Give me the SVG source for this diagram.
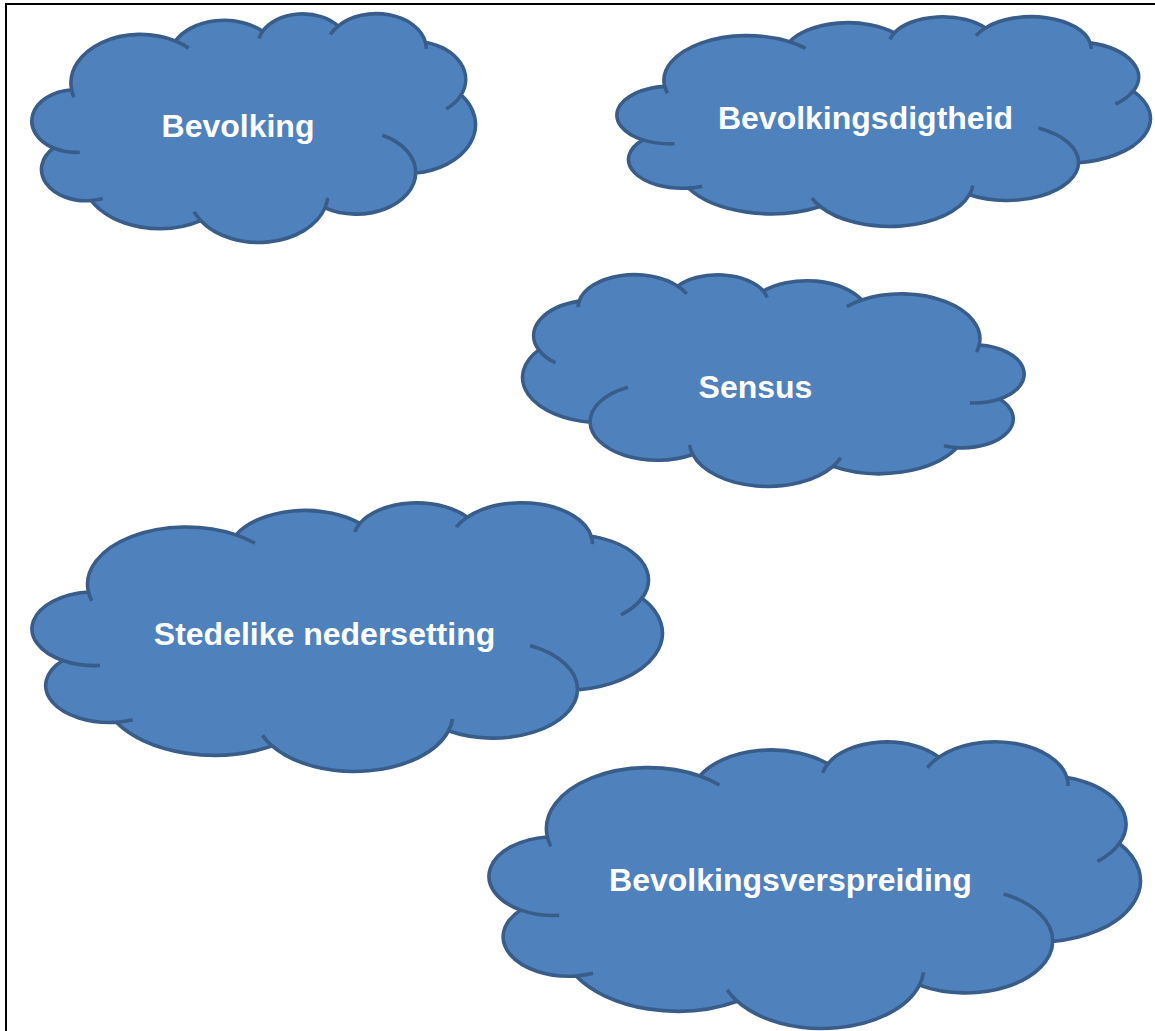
<svg xmlns="http://www.w3.org/2000/svg" xmlns:xlink="http://www.w3.org/1999/xlink" width="1155" height="1031" viewBox="0 0 1155 1031">
<style>
.cloud{fill:#4F81BD;stroke:#385D8A;stroke-width:3.6;vector-effect:non-scaling-stroke;stroke-linejoin:round}
.inner{fill:none;stroke:#385D8A;stroke-width:3.6;vector-effect:non-scaling-stroke}
.lbl{font-family:"Liberation Sans",Arial,sans-serif;font-weight:bold;font-size:32px;fill:#FFFFFF;text-anchor:middle}
.frame{fill:none;stroke:#000000;stroke-width:2}
</style>
<defs>
<g id="cloudShape">
<path class="cloud" d="M3900,14370 A6753,9190 0 0 1 14000,5192 A5333,7267 0 0 1 22480,3360 A4365,5945 0 0 1 29840,2370 A4857,6595 0 0 1 38324,5426 A5333,7273 0 0 1 41798,15354 A6775,9220 0 0 1 37383,30093 A5785,7867 0 0 1 28550,36665 A6752,9215 0 0 1 16478,39090 A7720,10543 0 0 1 5810,35290 A4360,5918 0 0 1 2140,25375 A4345,5945 0 0 1 3900,14370 Z"/>
<path class="inner" d="M4693,26177 A4345,5945 0 0 1 2140,25375 M6928,34899 A4360,5918 0 0 1 5810,35290 M16478,39090 A6752,9215 0 0 1 15814,37361 M28827,34751 A6752,9215 0 0 1 28550,36665 M34129,22954 A5785,7867 0 0 1 37383,30093 M41798,15354 A5333,7273 0 0 1 40351,18030 M38324,5426 A4857,6595 0 0 1 38401,6690 M29078,3952 A4857,6595 0 0 1 29840,2370 M22141,4720 A4365,5945 0 0 1 22480,3360 M14000,5192 A6753,9190 0 0 1 15300,6540 M4127,15789 A6753,9190 0 0 1 3900,14370"/>
</g>
</defs>
<rect class="frame" x="6" y="4" width="1160" height="1040"/>
<g id="connectors"></g>
<g id="bevolking">
<use xlink:href="#cloudShape" href="#cloudShape" transform="translate(31.5,13.5) scale(0.010278,0.0053009)"/>
<text class="lbl" x="238" y="136.5">Bevolking</text>
</g>
<g id="bevolkingsdigtheid">
<use xlink:href="#cloudShape" href="#cloudShape" transform="translate(616.5,16.5) scale(0.012361,0.0048611)"/>
<text class="lbl" x="865.5" y="129">Bevolkingsdigtheid</text>
</g>
<g id="sensus">
<use xlink:href="#cloudShape" href="#cloudShape" transform="translate(1024.5,274.5) scale(-0.011620,0.0049074)"/>
<text class="lbl" x="755.5" y="398">Sensus</text>
</g>
<g id="stedelike">
<use xlink:href="#cloudShape" href="#cloudShape" transform="translate(31.5,502.5) scale(0.014606,0.0062269)"/>
<text class="lbl" x="324.5" y="645">Stedelike nedersetting</text>
</g>
<g id="bevolkingsverspreiding">
<use xlink:href="#cloudShape" href="#cloudShape" transform="translate(488.5,741.5) scale(0.015093,0.0066435)"/>
<text class="lbl" x="790.5" y="891">Bevolkingsverspreiding</text>
</g>
</svg>
